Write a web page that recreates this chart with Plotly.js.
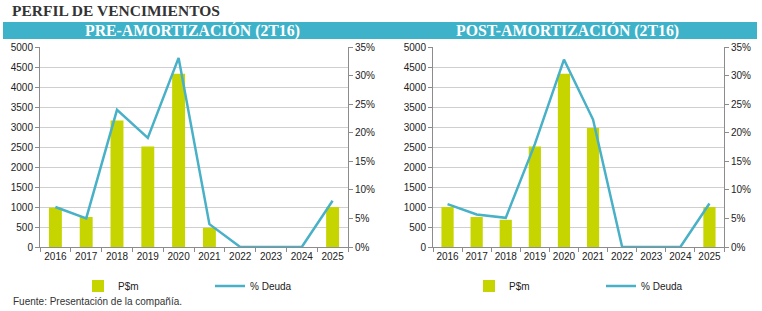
<!DOCTYPE html>
<html><head><meta charset="utf-8">
<script src="https://cdn.plot.ly/plotly-3.0.1.min.js"></script>
<style>body{margin:0;background:#fff;} #chart{width:762px;height:311px;}</style>
</head><body><div id="chart"></div>
<script>
const years = ['2016','2017','2018','2019','2020','2021','2022','2023','2024','2025'];
const preMonto = [985, 750, 3165, 2515, 4330, 480, 0, 0, 0, 1000];
const prePct = [0.070, 0.050, 0.240, 0.191, 0.331, 0.040, 0, 0, 0, 0.081];
const postMonto = [1000, 750, 680, 2515, 4330, 2975, 0, 0, 0, 1000];
const postPct = [0.075, 0.057, 0.051, 0.180, 0.328, 0.223, 0, 0, 0, 0.076];
const seriesNames = ['P$m', '% Deuda'];
const mainTitle = 'PERFIL DE VENCIMIENTOS';
const panelTitles = ['PRE-AMORTIZACIÓN (2T16)', 'POST-AMORTIZACIÓN (2T16)'];
const source = 'Fuente: Presentación de la compañía.';

const W = 762, H = 311;
const px = v => v / W, py = v => (H - v) / H;
const green = '#c6d500', teal = '#48b0c7', banner = '#3db2c9';
const axisCol = '#8c8c8c', gridCol = '#cfcfcf';
const tf = {family: 'Liberation Sans, Arial, sans-serif', size: 10, color: '#222'};

const traces = [
  {type: 'bar', x: years, y: preMonto, name: seriesNames[0], marker: {color: green}, xaxis: 'x', yaxis: 'y', legend: 'legend'},
  {type: 'scatter', mode: 'lines', x: years, y: prePct, name: seriesNames[1], line: {color: teal, width: 2.5}, xaxis: 'x', yaxis: 'y2', legend: 'legend'},
  {type: 'bar', x: years, y: postMonto, name: seriesNames[0], marker: {color: green}, xaxis: 'x3', yaxis: 'y3', legend: 'legend2'},
  {type: 'scatter', mode: 'lines', x: years, y: postPct, name: seriesNames[1], line: {color: teal, width: 2.5}, xaxis: 'x3', yaxis: 'y4', legend: 'legend2'}
];

const xBase = {type: 'category', showline: true, linecolor: axisCol, ticks: 'outside', tickson: 'boundaries', ticklen: 4, tickcolor: axisCol, showgrid: false, tickfont: tf, tickangle: 0, fixedrange: true};
const yBase = {range: [0, 5000], dtick: 500, showline: true, linecolor: axisCol, ticks: 'outside', ticklen: 4, tickcolor: axisCol, gridcolor: gridCol, gridwidth: 1, zeroline: false, tickfont: tf, domain: [py(247), py(47)]};
const y2Base = {range: [0, 0.35], dtick: 0.05, tickformat: '.0%', side: 'right', showline: true, linecolor: axisCol, ticks: 'outside', ticklen: 4, tickcolor: axisCol, showgrid: false, zeroline: false, tickfont: tf};

const legBase = {orientation: 'h', xanchor: 'left', yanchor: 'middle', y: py(286), entrywidth: 87, entrywidthmode: 'pixels', font: tf, bgcolor: 'rgba(0,0,0,0)', itemwidth: 30};

const layout = {
  width: W, height: H,
  margin: {l: 0, r: 0, t: 0, b: 0},
  paper_bgcolor: '#fff', plot_bgcolor: '#fff',
  bargap: 0.58,
  xaxis: Object.assign({}, xBase, {domain: [px(40), px(348)], anchor: 'y'}),
  yaxis: Object.assign({}, yBase, {anchor: 'x'}),
  yaxis2: Object.assign({}, y2Base, {overlaying: 'y', anchor: 'x'}),
  xaxis3: Object.assign({}, xBase, {domain: [px(433), px(724)], anchor: 'y3'}),
  yaxis3: Object.assign({}, yBase, {anchor: 'x3'}),
  yaxis4: Object.assign({}, y2Base, {overlaying: 'y3', anchor: 'x3'}),
  legend: Object.assign({}, legBase, {x: px(78)}),
  legend2: Object.assign({}, legBase, {x: px(469)}),
  shapes: [
    {type: 'rect', xref: 'paper', yref: 'paper', x0: px(3), x1: px(757), y0: py(39), y1: py(22), fillcolor: banner, line: {width: 0}, layer: 'below'}
  ],
  annotations: [
    {xref: 'paper', yref: 'paper', x: px(10), y: py(11), xanchor: 'left', yanchor: 'middle', showarrow: false, text: '<b>' + mainTitle + '</b>', font: {family: 'Liberation Serif, Times New Roman, serif', size: 15.5, color: '#333'}},
    {xref: 'paper', yref: 'paper', x: px(192), y: py(30.5), xanchor: 'center', yanchor: 'middle', showarrow: false, text: '<b>' + panelTitles[0] + '</b>', font: {family: 'Liberation Serif, Times New Roman, serif', size: 15.8, color: '#fff'}},
    {xref: 'paper', yref: 'paper', x: px(567), y: py(30.5), xanchor: 'center', yanchor: 'middle', showarrow: false, text: '<b>' + panelTitles[1] + '</b>', font: {family: 'Liberation Serif, Times New Roman, serif', size: 15.8, color: '#fff'}},
    {xref: 'paper', yref: 'paper', x: px(11), y: py(301), xanchor: 'left', yanchor: 'middle', showarrow: false, text: source, font: {family: 'Liberation Sans, Arial, sans-serif', size: 10, color: '#333'}}
  ]
};

Plotly.newPlot('chart', traces, layout, {displayModeBar: false, staticPlot: true});
</script></body></html>
